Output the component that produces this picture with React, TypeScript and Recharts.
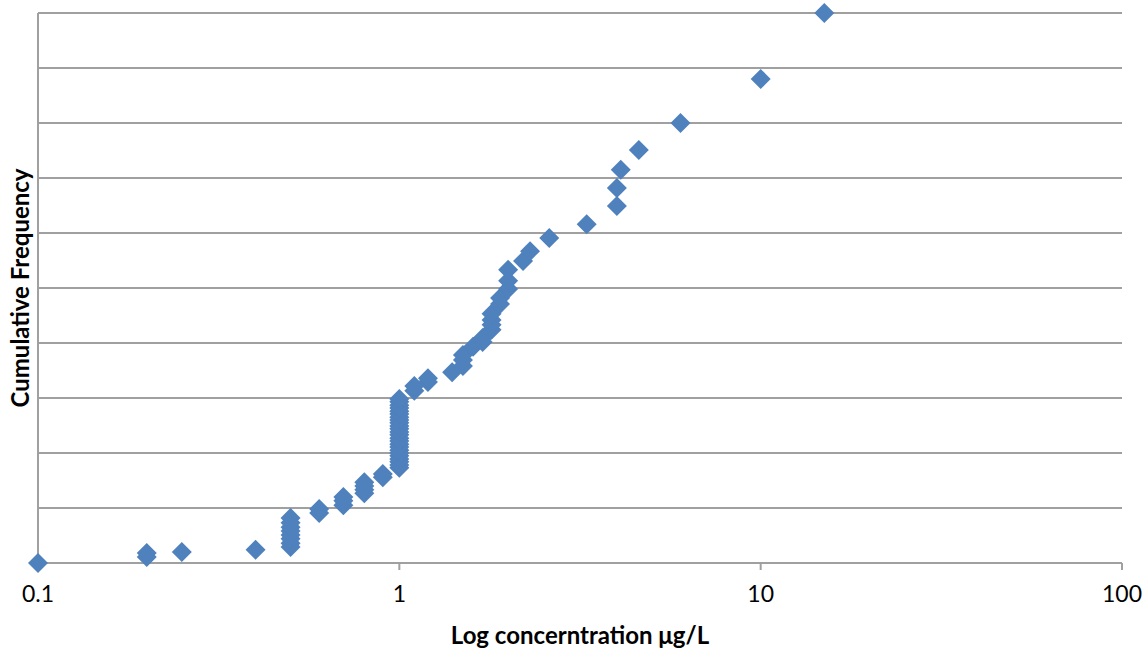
import React from 'react';
import { ScatterChart, Scatter, XAxis, YAxis, ReferenceLine } from 'recharts';

// concentration (µg/L) and matching cumulative frequency
const conc = [
    0.1, 0.2, 0.2, 0.25, 0.4,
    0.5, 0.5, 0.5, 0.5, 0.5, 0.5, 0.5, 0.5,
    0.6, 0.6,
    0.7, 0.7, 0.7,
    0.8, 0.8, 0.8, 0.8,
    0.9, 0.9,
    1, 1, 1, 1, 1, 1, 1, 1, 1, 1, 1, 1, 1, 1, 1, 1, 1, 1, 1, 1, 1, 1, 1, 1,
    1.1, 1.1, 1.2, 1.2, 1.4,
    1.5, 1.5, 1.5, 1.6, 1.7, 1.7,
    1.8, 1.8, 1.8, 1.8, 1.9, 1.9,
    2, 2, 2, 2.2, 2.3, 2.6, 3.3,
    4, 4, 4.1, 4.6, 6, 10, 15,
];
const freq = [
    0, 0.011, 0.018, 0.02, 0.024,
    0.029, 0.036, 0.044, 0.051, 0.058, 0.065, 0.073, 0.082,
    0.091, 0.098,
    0.105, 0.113, 0.12,
    0.127, 0.133, 0.14, 0.147,
    0.156, 0.162,
    0.173, 0.178, 0.184, 0.189, 0.195, 0.2, 0.205, 0.211, 0.216, 0.222, 0.227, 0.233,
    0.238, 0.244, 0.249, 0.255, 0.26, 0.265, 0.271, 0.276, 0.282, 0.287, 0.293, 0.298,
    0.313, 0.322, 0.329, 0.336, 0.347,
    0.358, 0.369, 0.378, 0.393, 0.402, 0.409,
    0.424, 0.433, 0.442, 0.453, 0.471, 0.482,
    0.498, 0.513, 0.533, 0.549, 0.567, 0.591, 0.616,
    0.649, 0.682, 0.715, 0.751, 0.8, 0.88, 1.0,
];
const xTicks = [0.1, 1, 10, 100];
const yTicks = [0, 0.1, 0.2, 0.3, 0.4, 0.5, 0.6, 0.7, 0.8, 0.9, 1];

const points = conc.map((c, i) => ({ conc: c, freq: freq[i] }));

const FONT = 'Lato, "Open Sans", sans-serif';
const GRID = '#a0a0a0';

const Diamond = (props: any) => {
    const { cx, cy } = props;
    const r = 10;
    return (
        <path
            d={`M${cx},${cy - r} L${cx + r},${cy} L${cx},${cy + r} L${cx - r},${cy} Z`}
            fill="#4F81BD"
        />
    );
};

export default function App() {
    return (
        <div style={{ position: 'absolute', left: 0, top: 0, width: 1146, height: 654, background: '#fff' }}>
            <ScatterChart width={1146} height={654} margin={{ top: 13, right: 24, left: 0, bottom: 0 }}>
                {/* horizontal gridlines */}
                {yTicks.map((v) => (
                    <ReferenceLine key={v} y={v} stroke={GRID} strokeWidth={2} ifOverflow="visible" />
                ))}
                <XAxis
                    dataKey="conc"
                    type="number"
                    scale="log"
                    domain={[0.1, 100]}
                    ticks={xTicks}
                    height={91}
                    axisLine={{ stroke: GRID, strokeWidth: 2 }}
                    tickLine={{ stroke: GRID, strokeWidth: 2 }}
                    tickSize={7}
                    tickMargin={16}
                    tick={{ fill: '#000', fontSize: 23, fontFamily: FONT }}
                    label={{
                        content: () => (
                            <text x={580} y={644} textAnchor="middle" fontFamily={FONT} fontWeight="bold" fontSize={24} fill="#000">
                                Log concerntration μg/L
                            </text>
                        ),
                    }}
                />
                <YAxis
                    dataKey="freq"
                    type="number"
                    domain={[0, 1]}
                    ticks={yTicks}
                    width={38}
                    tick={false}
                    tickLine={false}
                    axisLine={{ stroke: GRID, strokeWidth: 2 }}
                    label={{
                        content: () => (
                            <text
                                x={29}
                                y={288}
                                transform="rotate(-90 29 288)"
                                textAnchor="middle"
                                fontFamily={FONT}
                                fontWeight="bold"
                                fontSize={24}
                                fill="#000"
                            >
                                Cumulative Frequency
                            </text>
                        ),
                    }}
                />
                <Scatter data={points} shape={<Diamond />} isAnimationActive={false} />
            </ScatterChart>
        </div>
    );
}
